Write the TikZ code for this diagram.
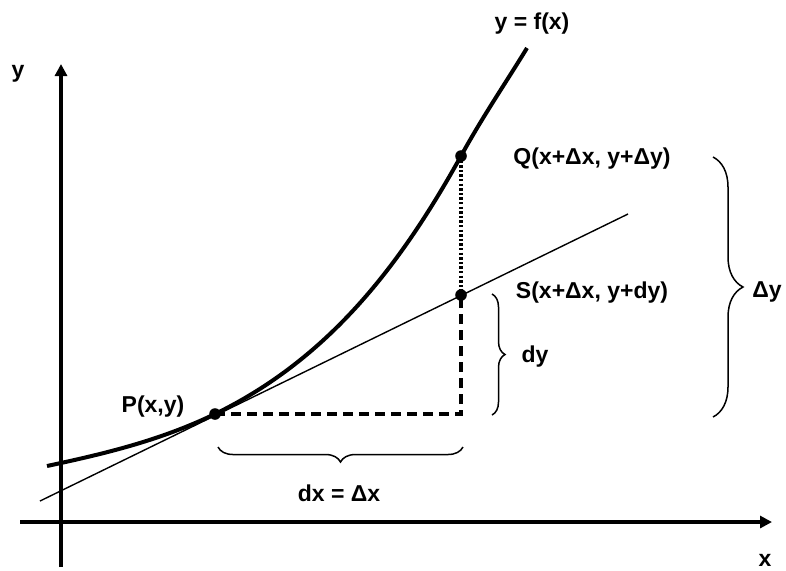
\documentclass[tikz,border=0pt]{standalone}
\usepackage{fontspec}
\setmainfont{Liberation Sans}
\usepackage{tikz}
\usetikzlibrary{arrows.meta,decorations.pathreplacing}

\begin{document}
\begin{tikzpicture}[x=0.5pt,y=-0.5pt,
    every node/.style={font=\fontsize{11.5}{13}\selectfont\bfseries},
    axis/.style={line width=1.7pt,-{Triangle[length=6pt,width=6pt]}},
    brc/.style={decorate,decoration={brace,amplitude=#1,aspect=0.5},line width=0.75pt}]
    \useasboundingbox (0,0) rectangle (786,570);
    % axes
    \draw[axis] (20,522) -- (772,522);
    \draw[axis] (61,567) -- (61,64);
    \node (xlab) at (765,560) {x};
    \node (ylab) at (18,74) {y};
    % points
    \coordinate (P) at (215,414);
    \coordinate (Q) at (461,156);
    \coordinate (S) at (461,295);
    \coordinate (R) at (461,414);
    \coordinate (tanA) at (40,501);
    \coordinate (tanB) at (628,214);
    % tangent and curve
    \draw[line width=0.7pt] (tanA) -- (tanB);
    \draw[line width=2pt] (47,466) .. controls (103,454) and (159,441) .. (P)
      .. controls (330,358) and (401,264) .. (Q)
      .. controls (483,116) and (505,84) .. (527,48);
    \draw[line width=1.7pt,dash pattern=on 5pt off 3pt] (P) -- (R) -- (S);
    \draw[line width=1.6pt,dash pattern=on 1.2pt off 1.1pt] (Q) -- (S);
    \foreach \p in {P,Q,S}
      \fill (\p) circle (2.9pt);
    % braces
    \draw[brc=7.5pt] (463,447) -- (218,447);
    \draw[brc=6.5pt] (492,294) -- (492,415);
    \draw[brc=15pt] (713,157) -- (713,417);
    % labels
    \node (flab) at (532,24) {y = f(x)};
    \node (plab) at (153,407) {P(x,y)};
    \node (qlab) at (592,159) {Q(x+Δx, y+Δy)};
    \node (slab) at (592,293) {S(x+Δx, y+dy)};
    \node (dylab) at (535,357) {dy};
    \node (Dylab) at (767,292) {Δy};
    \node (dxlab) at (339,493) {dx = Δx};
  \end{tikzpicture}
\end{document}
